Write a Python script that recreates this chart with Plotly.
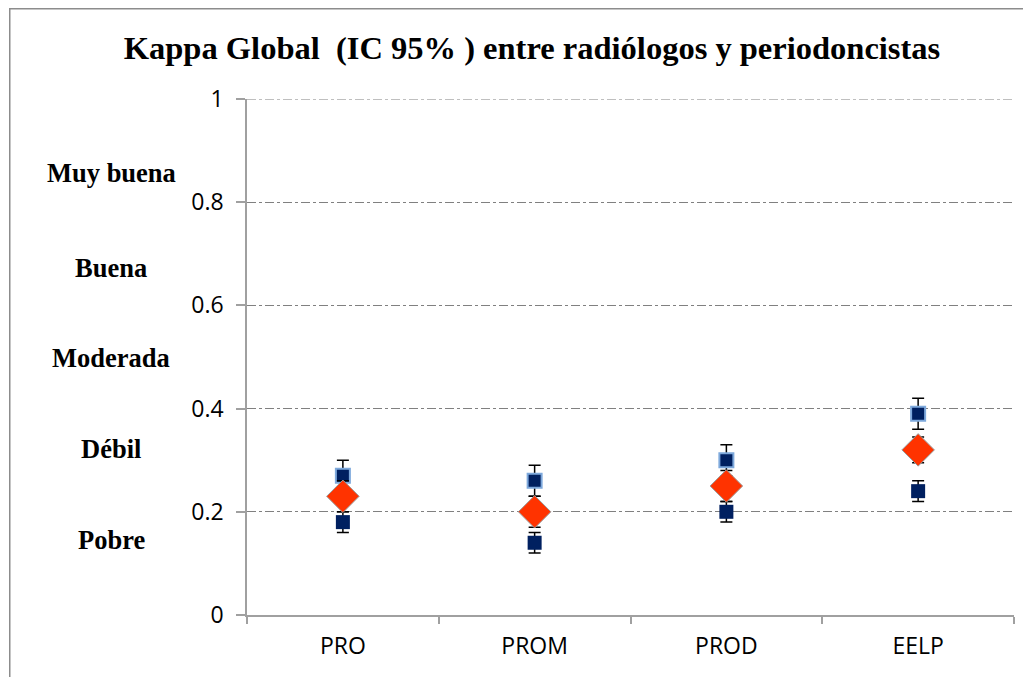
import plotly.graph_objects as go

categories = ["PRO", "PROM", "PROD", "EELP"]
kappa_global = [0.23, 0.20, 0.25, 0.32]
kappa_global_err = [0.03, 0.03, 0.03, 0.025]
upper_vals = [0.27, 0.26, 0.30, 0.39]
upper_err = [0.03, 0.03, 0.03, 0.03]
lower_vals = [0.18, 0.14, 0.20, 0.24]
lower_err = [0.02, 0.02, 0.02, 0.02]
y_tickvals = [0, 0.2, 0.4, 0.6, 0.8, 1]
y_ticktext = ["0", "0.2", "0.4", "0.6", "0.8", "1"]
scale_labels = ["Muy buena", "Buena", "Moderada", "Débil", "Pobre"]
scale_label_y = [0.857, 0.672, 0.498, 0.322, 0.145]
title_text = "Kappa Global  (IC 95% ) entre radiólogos y periodoncistas"

OFF = 8  # page body margin
W, H = 1031 - OFF, 677 - OFF
L, R, T, B = 247 - OFF, 1014 - OFF, 99 - OFF, 615 - OFF

fig = go.Figure()

fig.add_trace(go.Scatter(
    x=categories, y=lower_vals, mode="markers",
    marker=dict(symbol="square", size=14, color="#002060",
                line=dict(color="#002060", width=0)),
    error_y=dict(type="data", array=lower_err, color="black", thickness=1.5, width=6),
    showlegend=False, hoverinfo="skip"))

fig.add_trace(go.Scatter(
    x=categories, y=upper_vals, mode="markers",
    marker=dict(symbol="square", size=14, color="#002060",
                line=dict(color="#7EA9DC", width=2)),
    error_y=dict(type="data", array=upper_err, color="black", thickness=1.5, width=6),
    showlegend=False, hoverinfo="skip"))

fig.add_trace(go.Scatter(
    x=categories, y=kappa_global, mode="markers",
    marker=dict(symbol="diamond", size=25, color="#FF3300",
                line=dict(color="#9A9A9A", width=1)),
    error_y=dict(type="data", array=kappa_global_err, color="black", thickness=1.5, width=6),
    showlegend=False, hoverinfo="skip"))

fig.update_layout(
    width=W, height=H,
    margin=dict(l=L, r=W - R, t=T, b=H - B, pad=0),
    plot_bgcolor="white", paper_bgcolor="white",
    font=dict(family="Open Sans", size=23, color="black"),
    title=dict(text=title_text, xref="container", x=(532 - OFF) / W, xanchor="center",
               y=1 - (48 - OFF) / H, yanchor="middle",
               font=dict(family="Liberation Serif", size=32.5, color="black", weight="bold")),
)

fig.update_yaxes(
    range=[0, 1], tickvals=y_tickvals, ticktext=y_ticktext,
    showgrid=True, gridcolor="#808080", gridwidth=1, griddash="dashdot",
    showline=True, linecolor="#A0A0A0", linewidth=1.5,
    ticks="outside", ticklen=9, tickcolor="#A0A0A0", tickwidth=1.5,
    ticklabelstandoff=8, zeroline=False,
    tickfont=dict(family="Open Sans", size=23, color="black"))

fig.update_xaxes(
    type="category", range=[-0.5, 3.5], showgrid=False,
    showline=True, linecolor="#A0A0A0", linewidth=1.5,
    ticks="outside", ticklen=7, tickcolor="#A0A0A0", tickwidth=1.5,
    tickson="boundaries", ticklabelstandoff=10,
    tickfont=dict(family="Open Sans", size=23, color="black"))

# top gridline at 1 (plotly omits the edge gridline)
fig.add_shape(type="line", xref="paper", yref="y", x0=0, x1=1, y0=1, y1=1,
              line=dict(color="#808080", width=1, dash="dashdot"), layer="below")

for txt, yv in zip(scale_labels, scale_label_y):
    fig.add_annotation(text=txt, xref="paper", yref="y",
                       x=(111 - OFF - L) / (R - L), y=yv,
                       xanchor="center", yanchor="middle", showarrow=False,
                       font=dict(family="Liberation Serif", size=26.5, color="black", weight="bold"))

# outer chart frame (left and top edges visible)
fx = (9 - OFF - L) / (R - L)
fy = (B - (8 - OFF) - 0.75) / (B - T)
fig.add_shape(type="line", xref="paper", yref="paper",
              x0=fx + 0.75 / (R - L), x1=fx + 0.75 / (R - L),
              y0=fy, y1=(B - H - 5) / (B - T),
              line=dict(color="#8C8C8C", width=1.5))
fig.add_shape(type="line", xref="paper", yref="paper",
              x0=fx, x1=(W + 5 - L) / (R - L),
              y0=fy, y1=fy,
              line=dict(color="#8C8C8C", width=1.5))

fig.write_html("out.html")
